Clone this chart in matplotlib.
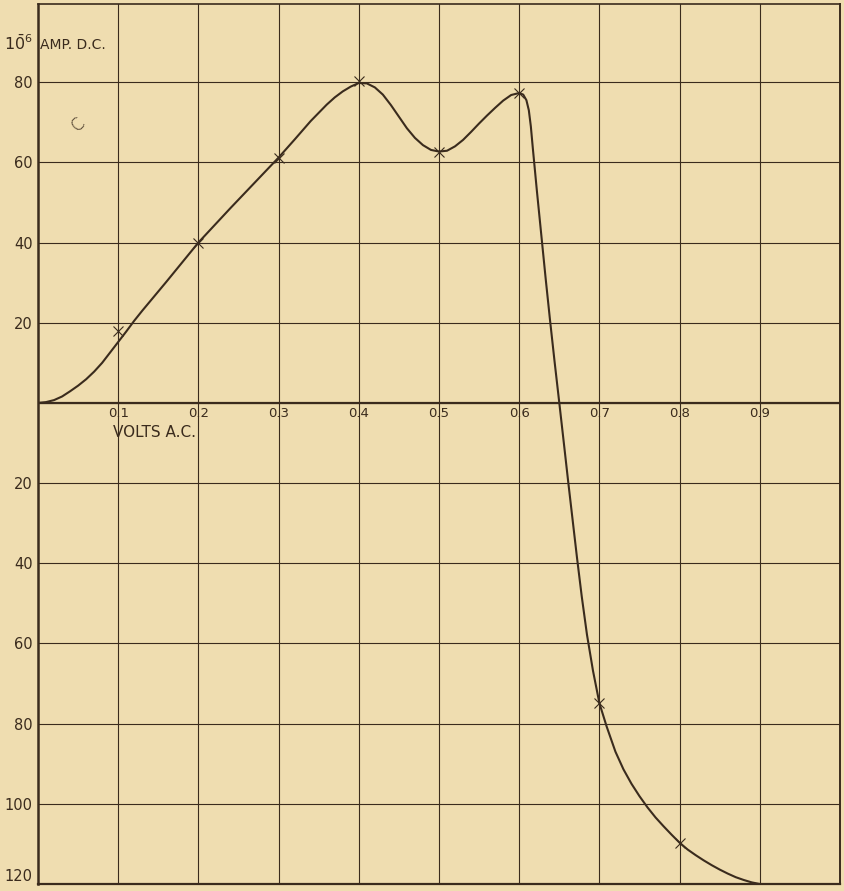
import matplotlib
matplotlib.use('Agg')
import matplotlib.pyplot as plt

# measured points (crosses)
volts = [0.1, 0.2, 0.3, 0.4, 0.5, 0.6, 0.7, 0.8]
amps = [18, 40, 61.2, 80.2, 62.7, 77.3, -74.9, -109.7]

# traced curve
curve_x = [0.0, 0.01, 0.02, 0.03, 0.04, 0.05, 0.06, 0.07, 0.08, 0.09,
           0.1, 0.11, 0.12, 0.13, 0.14, 0.15, 0.16, 0.18, 0.2, 0.22,
           0.24, 0.26, 0.28, 0.3, 0.32, 0.34, 0.36, 0.37, 0.38, 0.39,
           0.4, 0.41, 0.42, 0.43, 0.44, 0.45, 0.46, 0.47, 0.48, 0.49,
           0.5, 0.51, 0.52, 0.53, 0.54, 0.55, 0.56, 0.57, 0.58, 0.59,
           0.6, 0.605, 0.609, 0.612, 0.6145, 0.617, 0.622, 0.628, 0.633, 0.6384,
           0.644, 0.65, 0.656, 0.661, 0.6665, 0.672, 0.678, 0.6845, 0.692, 0.7,
           0.709, 0.72, 0.73, 0.74, 0.75, 0.76, 0.77, 0.78, 0.79, 0.8,
           0.81, 0.82, 0.83, 0.84, 0.85, 0.86, 0.87, 0.88, 0.89, 0.9]
curve_y = [0.0, 0.2, 0.7, 1.6, 2.9, 4.3, 5.9, 7.8, 10.0, 12.6,
           15.2, 17.8, 20.5, 23.0, 25.4, 27.8, 30.2, 35.1, 40.0, 44.3,
           48.6, 52.8, 57.0, 61.2, 65.7, 70.3, 74.4, 76.2, 77.7, 78.9,
           79.8, 79.7, 78.7, 76.9, 74.3, 71.4, 68.5, 66.1, 64.3, 63.1,
           62.7, 62.9, 64.0, 65.6, 67.6, 69.7, 71.7, 73.6, 75.4, 76.8,
           77.3, 76.9, 75.5, 73.0, 69.0, 63.5, 53.0, 41.0, 31.0, 20.7,
           10.5, 0.0, -10.6, -19.5, -29.0, -38.5, -48.3, -57.8, -66.8, -74.9,
           -80.7, -87.0, -91.4, -95.0, -98.1, -100.9, -103.4, -105.6, -107.7, -109.7,
           -111.4, -112.8, -114.1, -115.3, -116.4, -117.4, -118.3, -119.0, -119.6, -120.0]

x_ticks = [0.1, 0.2, 0.3, 0.4, 0.5, 0.6, 0.7, 0.8, 0.9]
x_labels = ['0.1', '0.2', '0.3', '0.4', '0.5', '0.6', '0.7', '0.8', '0.9']
y_ticks = [80, 60, 40, 20, -20, -40, -60, -80, -100, -120]
y_labels = ['80', '60', '40', '20', '20', '40', '60', '80', '100', '120']

bg = '#efddb0'
ink = '#3a2b1d'

fig = plt.figure(figsize=(8.44, 8.91), dpi=100, facecolor=bg)
ax = fig.add_axes([38/844, 7/891, 802/844, 880/891])
ax.set_facecolor(bg)
ax.set_xlim(0, 1.0)
ax.set_ylim(-120, 99.5)

# grid
ax.set_xticks(x_ticks + [1.0])
ax.set_yticks(y_ticks, y_labels)
ax.set_yticks([0], minor=True)
ax.grid(True, which='both', color=ink, linewidth=0.8)
ax.axhline(0, color=ink, linewidth=1.6)
ax.tick_params(which='both', length=0, labelbottom=False)
ax.tick_params(axis='y', pad=4, labelsize=10.5, labelcolor=ink)
ax.get_yticklabels()[-1].set_va('bottom')

for side in ['left', 'right', 'top', 'bottom']:
    ax.spines[side].set_color(ink)
ax.spines['left'].set_linewidth(1.8)
ax.spines['right'].set_linewidth(1.4)
ax.spines['top'].set_linewidth(1.2)
ax.spines['bottom'].set_linewidth(1.6)

# x tick labels sit inside, just under the zero line
for xv, lab in zip(x_ticks, x_labels):
    ax.text(xv, -2.6, lab, ha='center', va='center', fontsize=9.5, color=ink)

ax.text(0.094, -7.3, 'VOLTS A.C.', ha='left', va='center', fontsize=11, color=ink)
ax.text(0.003, 89.3, 'AMP. D.C.', ha='left', va='center', fontsize=10, color=ink)
ax.text(-0.006, 89.6, r'$\mathregular{1\bar{0}^{6}}$', ha='right', va='center',
        fontsize=11.5, color=ink, clip_on=False)
ax.text(0.05, 69.6, 'C', ha='center', va='center', fontsize=12, color=ink,
        rotation=45, fontweight='light')

ax.plot(curve_x, curve_y, color=ink, linewidth=1.5, solid_capstyle='round',
        solid_joinstyle='round')
ax.plot(volts, amps, linestyle='none', marker='x', markersize=7, markeredgewidth=0.8,
        color=ink)

fig.savefig('out.png', dpi=100, facecolor=bg)
